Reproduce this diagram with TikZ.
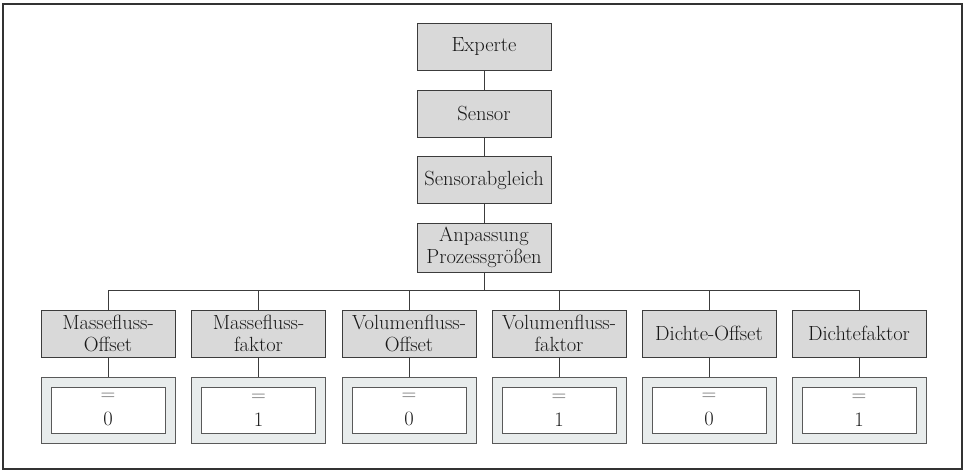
\documentclass[tikz,border=0pt]{standalone}
\usetikzlibrary{positioning}
\definecolor{boxgray}{HTML}{D9D9D9}
\definecolor{valgray}{HTML}{E8ECEC}
\definecolor{linegray}{HTML}{3C3C3C}
\begin{document}
\begin{tikzpicture}[x=1pt,y=-1pt,
  menubox/.style={draw=linegray,line width=0.9pt,fill=boxgray,minimum width=134pt,minimum height=47pt,inner sep=0pt,align=center,font=\fontsize{20.5}{22.5}\selectfont,text=black!90},
  topbox/.style={menubox,minimum height=47pt},
  valouter/.style={draw=linegray!85,line width=0.9pt,fill=valgray,minimum width=134pt,minimum height=66pt,inner sep=0pt},
  valinner/.style={draw=linegray!85,line width=0.9pt,fill=white,minimum width=114pt,minimum height=46pt,inner sep=0pt,align=center,font=\fontsize{20.5}{25}\selectfont,text=black!90},
  conn/.style={draw=linegray,line width=0.9pt}]
\useasboundingbox (0,0) rectangle (969,471);
\draw[line width=2pt,draw=black!80] (3,4) rectangle (962,469);
% top column
\node[topbox] (exp) at (484,46.5) {Experte};
\node[topbox] (sen) at (484,113.5) {Sensor};
\node[topbox] (abg) at (484,180) {Sensorabgleich};
\node[topbox,minimum height=49pt] (anp) at (484,247.5) {Anpassung\\Prozessgrößen};
\draw[conn] (exp) -- (sen);
\draw[conn] (sen) -- (abg);
\draw[conn] (abg) -- (anp);
\coordinate (bus) at (484,290);
\draw[conn] (anp) -- (bus);
% bottom row
\foreach \i/\x/\t/\v in {1/108/{Massefluss-\\Offset}/0,2/258.5/{Massefluss-\\faktor}/1,3/409/{Volumenfluss-\\Offset}/0,4/559/{Volumenfluss-\\faktor}/1,5/709/{Dichte-Offset}/0,6/859/{Dichtefaktor}/1}{
  \node[menubox] (p\i) at (\x,333.5) {\t};
  \node[valouter] (vo\i) at (\x,410) {};
  \node[valinner] (vi\i) at (\x,410) {{\color{black!60}=}\\\v};
  \coordinate (b\i) at (\x,290);
  \draw[conn] (b\i) -- (p\i);
  \draw[conn] (p\i) -- (vo\i);
}
\draw[conn] (b1) -- (b6);
\end{tikzpicture}
\end{document}
